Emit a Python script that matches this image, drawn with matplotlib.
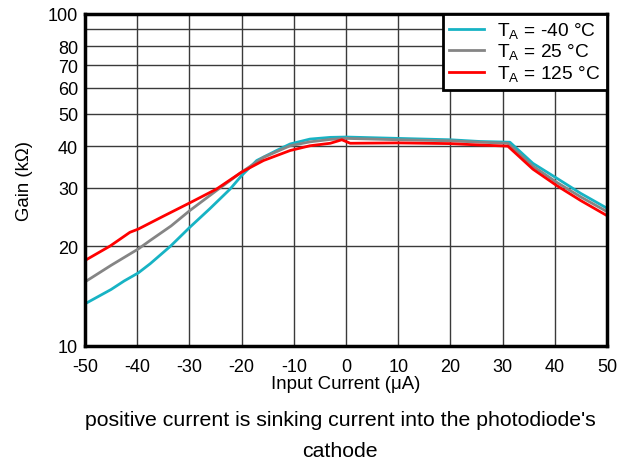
import numpy as np
import matplotlib.pyplot as plt
from matplotlib.ticker import FixedLocator, NullLocator

plt.rcParams['font.family'] = ['Liberation Sans', 'DejaVu Sans']
plt.rcParams['axes.unicode_minus'] = False

# readings from the plot, input current (uA) vs gain (kOhm)
x_cold = [-50, -45, -42.5, -39.8, -37.5, -33.6, -29.9, -26.1, -22.2, -20, -17.1, -13.3, -10.7, -6.9, -3, 0, 5, 10, 20, 25.7, 31.4, 35.8, 40.4, 45, 50]
g_cold = [13.4, 14.8, 15.7, 16.6, 17.7, 20.0, 22.8, 25.9, 29.7, 32.6, 36.2, 38.8, 40.6, 42.0, 42.5, 42.6, 42.4, 42.2, 41.8, 41.3, 41.1, 35.5, 32.0, 28.8, 26.0]

x_room = [-50, -45, -39.8, -37.5, -33.5, -29.9, -24.8, -20, -15.8, -10.7, -6.9, -3, 0, 5, 10, 20, 25.7, 31.0, 35.8, 40.4, 45, 50]
g_room = [15.6, 17.5, 19.6, 20.8, 23.0, 25.6, 29.4, 33.4, 37.0, 40.1, 41.2, 41.9, 42.2, 42.0, 41.8, 41.5, 41.1, 40.8, 34.8, 31.1, 28.1, 25.4]

x_hot = [-50, -45.2, -41.4, -39.8, -35, -29.9, -24.8, -20, -15.8, -10.7, -6.9, -3, -0.8, 0.8, 10, 20, 25.7, 31, 35.8, 40.4, 45, 50]
g_hot = [18.1, 20.0, 22.0, 22.5, 24.6, 27.0, 29.7, 33.4, 36.2, 38.8, 40.1, 40.8, 41.8, 40.8, 40.9, 40.7, 40.3, 40.0, 34.1, 30.4, 27.4, 24.7]

labels = ['T$_\\mathregular{A}$ = -40 °C', 'T$_\\mathregular{A}$ = 25 °C', 'T$_\\mathregular{A}$ = 125 °C']
colors = ['#17b3c4', '#858585', '#ff0000']

fig = plt.figure(figsize=(6.31, 4.64), dpi=100)
ax = fig.add_axes([85 / 631, 1 - 347 / 464, 522 / 631, 332 / 464])

for xs, ys, lab, c in zip([x_cold, x_room, x_hot], [g_cold, g_room, g_hot], labels, colors):
    ax.plot(xs, ys, color=c, lw=2, label=lab)

ax.set_yscale('log')
ax.set_xlim(-50, 50)
ax.set_ylim(10, 100)
ax.set_xticks(np.arange(-50, 51, 10))
yt = [10, 20, 30, 40, 50, 60, 70, 80, 100]
ax.yaxis.set_major_locator(FixedLocator(yt))
ax.yaxis.set_minor_locator(NullLocator())
ax.set_yticklabels([str(v) for v in yt])
for v in [20, 30, 40, 50, 60, 70, 80, 90]:
    ax.axhline(v, color='#3a3a3a', lw=1, zorder=0)
for v in range(-40, 50, 10):
    ax.axvline(v, color='#3a3a3a', lw=1, zorder=0)
ax.tick_params(length=0, labelsize=13)
ax.tick_params(axis='y', pad=5)
ax.tick_params(axis='x', pad=9)
for s in ax.spines.values():
    s.set_linewidth(2.5)

ax.set_xlabel('Input Current (\u03bcA)', fontsize=13.4, labelpad=0)
ax.set_ylabel('Gain (k\u03a9)', fontsize=13.4)
ax.yaxis.set_label_coords(-0.1, 0.5)

leg = ax.legend(loc='upper right', fontsize=13.8, frameon=True, fancybox=False,
                borderaxespad=0, handlelength=1.8, handletextpad=0.7,
                labelspacing=0.05, borderpad=0.35)
leg.get_frame().set_edgecolor('black')
leg.get_frame().set_linewidth(2)
leg.get_frame().set_alpha(1)

fig.text(340 / 631, 1 - 421 / 464, "positive current is sinking current into the photodiode's",
         ha='center', va='center', fontsize=15.3)
fig.text(340 / 631, 1 - 452 / 464, 'cathode', ha='center', va='center', fontsize=15.3)

fig.savefig('out.png', dpi=100)
